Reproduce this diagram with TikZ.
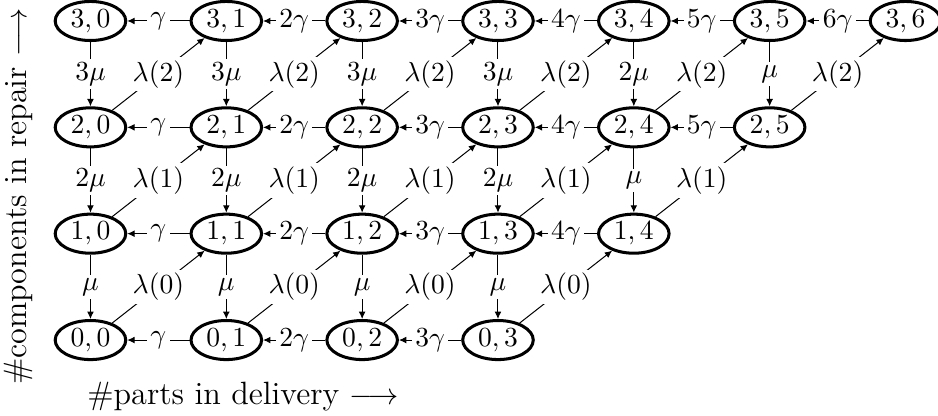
\documentclass[tikz,border=0pt]{standalone}
\usetikzlibrary{arrows.meta,positioning,shapes.geometric}

\begin{document}
\begin{tikzpicture}[
    on grid,
    font=\fontsize{11}{13}\selectfont,
    node distance=42.2pt and 53.9pt,
    state/.style={draw, ellipse, line width=1.2pt, minimum width=28pt, minimum height=15.5pt, inner sep=0pt},
    rate/.style={fill=white, inner sep=1.3pt},
    line/.style={-{Latex[length=2.9pt,width=2.7pt]}},
    axis/.style={font=\fontsize{12.8}{15}\selectfont, inner sep=0pt},
  ]
    \useasboundingbox (-35.9pt,-156.7pt) rectangle (336.3pt,8.33pt);

    \node[state] (s30) {$3,0$};
    \node[state, right=of s30] (s31) {$3,1$};
    \node[state, right=of s31] (s32) {$3,2$};
    \node[state, right=of s32] (s33) {$3,3$};
    \node[state, right=of s33] (s34) {$3,4$};
    \node[state, right=of s34] (s35) {$3,5$};
    \node[state, right=of s35] (s36) {$3,6$};
    \node[state, below=of s30] (s20) {$2,0$};
    \node[state, right=of s20] (s21) {$2,1$};
    \node[state, right=of s21] (s22) {$2,2$};
    \node[state, right=of s22] (s23) {$2,3$};
    \node[state, right=of s23] (s24) {$2,4$};
    \node[state, right=of s24] (s25) {$2,5$};
    \node[state, below=of s20] (s10) {$1,0$};
    \node[state, right=of s10] (s11) {$1,1$};
    \node[state, right=of s11] (s12) {$1,2$};
    \node[state, right=of s12] (s13) {$1,3$};
    \node[state, right=of s13] (s14) {$1,4$};
    \node[state, below=of s10] (s00) {$0,0$};
    \node[state, right=of s00] (s01) {$0,1$};
    \node[state, right=of s01] (s02) {$0,2$};
    \node[state, right=of s02] (s03) {$0,3$};

    \node[axis] (xlab) at (60.5pt,-149pt) {\#parts in delivery $\longrightarrow$};
    \node[axis, rotate=90] (ylab) at (-28.6pt,-69.6pt) {\#components in repair $\longrightarrow$};

    \draw[line] (s31) -- node[rate] {$\gamma$} (s30);
    \draw[line] (s32) -- node[rate] {$2\gamma$} (s31);
    \draw[line] (s33) -- node[rate] {$3\gamma$} (s32);
    \draw[line] (s34) -- node[rate] {$4\gamma$} (s33);
    \draw[line] (s35) -- node[rate] {$5\gamma$} (s34);
    \draw[line] (s36) -- node[rate] {$6\gamma$} (s35);
    \draw[line] (s21) -- node[rate] {$\gamma$} (s20);
    \draw[line] (s22) -- node[rate] {$2\gamma$} (s21);
    \draw[line] (s23) -- node[rate] {$3\gamma$} (s22);
    \draw[line] (s24) -- node[rate] {$4\gamma$} (s23);
    \draw[line] (s25) -- node[rate] {$5\gamma$} (s24);
    \draw[line] (s11) -- node[rate] {$\gamma$} (s10);
    \draw[line] (s12) -- node[rate] {$2\gamma$} (s11);
    \draw[line] (s13) -- node[rate] {$3\gamma$} (s12);
    \draw[line] (s14) -- node[rate] {$4\gamma$} (s13);
    \draw[line] (s01) -- node[rate] {$\gamma$} (s00);
    \draw[line] (s02) -- node[rate] {$2\gamma$} (s01);
    \draw[line] (s03) -- node[rate] {$3\gamma$} (s02);

    \draw[line] (s30) -- node[rate] {$3\mu$} (s20);
    \draw[line] (s31) -- node[rate] {$3\mu$} (s21);
    \draw[line] (s32) -- node[rate] {$3\mu$} (s22);
    \draw[line] (s33) -- node[rate] {$3\mu$} (s23);
    \draw[line] (s34) -- node[rate] {$2\mu$} (s24);
    \draw[line] (s35) -- node[rate] {$\mu$} (s25);
    \draw[line] (s20) -- node[rate] {$2\mu$} (s10);
    \draw[line] (s21) -- node[rate] {$2\mu$} (s11);
    \draw[line] (s22) -- node[rate] {$2\mu$} (s12);
    \draw[line] (s23) -- node[rate] {$2\mu$} (s13);
    \draw[line] (s24) -- node[rate] {$\mu$} (s14);
    \draw[line] (s10) -- node[rate] {$\mu$} (s00);
    \draw[line] (s11) -- node[rate] {$\mu$} (s01);
    \draw[line] (s12) -- node[rate] {$\mu$} (s02);
    \draw[line] (s13) -- node[rate] {$\mu$} (s03);

    \draw[line] (s20) -- node[rate] {$\lambda(2)$} (s31);
    \draw[line] (s21) -- node[rate] {$\lambda(2)$} (s32);
    \draw[line] (s22) -- node[rate] {$\lambda(2)$} (s33);
    \draw[line] (s23) -- node[rate] {$\lambda(2)$} (s34);
    \draw[line] (s24) -- node[rate] {$\lambda(2)$} (s35);
    \draw[line] (s25) -- node[rate] {$\lambda(2)$} (s36);
    \draw[line] (s10) -- node[rate] {$\lambda(1)$} (s21);
    \draw[line] (s11) -- node[rate] {$\lambda(1)$} (s22);
    \draw[line] (s12) -- node[rate] {$\lambda(1)$} (s23);
    \draw[line] (s13) -- node[rate] {$\lambda(1)$} (s24);
    \draw[line] (s14) -- node[rate] {$\lambda(1)$} (s25);
    \draw[line] (s00) -- node[rate] {$\lambda(0)$} (s11);
    \draw[line] (s01) -- node[rate] {$\lambda(0)$} (s12);
    \draw[line] (s02) -- node[rate] {$\lambda(0)$} (s13);
    \draw[line] (s03) -- node[rate] {$\lambda(0)$} (s14);
  \end{tikzpicture}
\end{document}
